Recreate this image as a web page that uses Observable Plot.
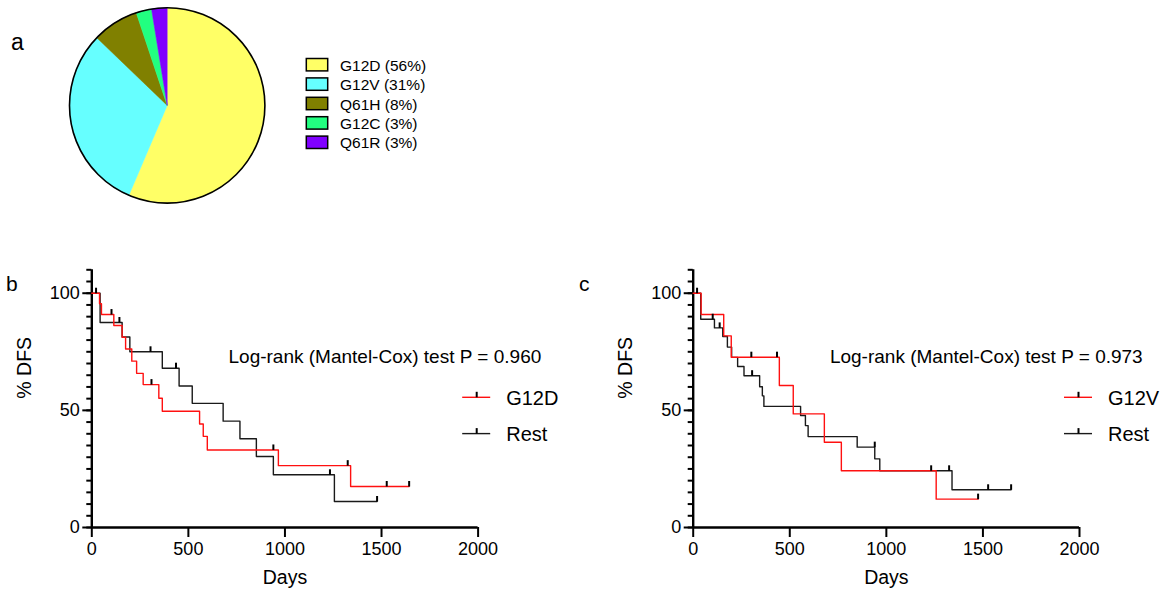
<!DOCTYPE html>
<html>
<head>
<meta charset="utf-8">
<script src="https://cdn.jsdelivr.net/npm/d3@7"></script>
<script src="https://cdn.jsdelivr.net/npm/@observablehq/plot@0.6"></script>
<style>
  body { margin: 0; background: #fff; }
  #root { position: relative; width: 1165px; height: 594px; overflow: hidden; background: #fff;
          font-family: "Liberation Sans", Arial, sans-serif; }
</style>
</head>
<body>
<div id="root"></div>
<script>
// ---------------- DATA ----------------
// Panel a: mutation distribution (patient counts)
const mutations = ["G12D", "G12V", "Q61H", "G12C", "Q61R"];
const mutationCounts = [22, 12, 3, 1, 1];
const mutationPercentLabels = ["56%", "31%", "8%", "3%", "3%"];
const mutationColors = ["#ffff66", "#66ffff", "#808000", "#22ff80", "#8000ff"];

// Axis ticks
const dayTicks = [0, 500, 1000, 1500, 2000];
const dfsMajorTicks = [0, 50, 100];
const dfsMinorTicks = [0, 5, 10, 15, 20, 25, 30, 35, 40, 45, 50, 55, 60, 65, 70, 75, 80, 85, 90, 95, 100, 105, 110];

// Panel b: G12D vs Rest (Kaplan-Meier steps)
const bG12DDays = [0, 40, 50, 114, 157, 175, 207, 232, 266, 347, 365, 558, 577, 598, 966, 1340, 1643];
const bG12DPct  = [100, 95.5, 90.9, 86.2, 81.2, 76.2, 71.0, 65.8, 61.0, 55.2, 49.6, 44.2, 38.9, 33.1, 26.4, 17.5, 17.5];
const bG12DCensorDays = [102, 309, 940, 1325, 1527, 1643];
const bG12DCensorPct  = [90.9, 61.0, 33.1, 26.4, 17.5, 17.5];
const bRestDays = [0, 43, 157, 197, 365, 452, 520, 680, 767, 852, 940, 1256, 1477];
const bRestPct  = [100, 87.5, 81.3, 75.0, 68.0, 60.4, 53.0, 45.4, 37.9, 30.3, 22.5, 11.1, 11.1];
const bRestCensorDays = [22, 143, 304, 436, 1233, 1477];
const bRestCensorPct  = [100, 87.5, 75.0, 68.0, 22.5, 11.1];

// Panel c: G12V vs Rest
const cG12VDays = [0, 41, 158, 197, 446, 518, 679, 767, 1258, 1475];
const cG12VPct  = [100, 90.9, 81.8, 72.7, 60.6, 48.5, 36.4, 24.2, 12.1, 12.1];
const cG12VCensorDays = [301, 434, 1475];
const cG12VCensorPct  = [72.7, 72.7, 12.1];
const cRestDays = [0, 39, 110, 153, 177, 199, 230, 263, 344, 358, 366, 556, 581, 595, 849, 940, 966, 1340, 1646];
const cRestPct  = [100, 88.9, 85.2, 81.5, 77.0, 72.6, 68.7, 64.8, 60.1, 56.2, 51.7, 47.8, 43.5, 38.8, 34.3, 29.3, 24.2, 16.1, 16.1];
const cRestCensorDays = [20, 101, 137, 305, 940, 1232, 1325, 1527, 1646];
const cRestCensorPct  = [100, 88.9, 85.2, 64.8, 34.3, 24.2, 24.2, 16.1, 16.1];

const bTestText = "Log-rank (Mantel-Cox) test P = 0.960";
const cTestText = "Log-rank (Mantel-Cox) test P = 0.973";

// ---------------- HELPERS ----------------
const FONT = "Liberation Sans, Arial, sans-serif";
const root = document.getElementById("root");
const zip = (days, pct) => days.map((d, i) => ({day: d, pct: pct[i]}));
const censorTick = { draw(context) { context.moveTo(0, 0); context.lineTo(0, -5.5); } };
const intFormat = d3.format("d");

function place(node, left, top) {
  node.style.position = "absolute";
  node.style.left = left + "px";
  node.style.top = top + "px";
  root.appendChild(node);
}

// ---------------- PANEL a: PIE ----------------
const pieData = mutations.map((m, i) => ({mutation: m, count: mutationCounts[i]}));
const pieArcs = d3.pie().sort(null).value(d => d.count)(pieData);

function pieMark(index, scales, values, dims) {
  const cx = scales.x ? scales.x(0) : dims.width / 2;
  const cy = scales.y ? scales.y(0) : dims.height / 2;
  const r = scales.x ? Math.abs(scales.x(1) - scales.x(0)) : Math.min(dims.width, dims.height) / 2;
  const color = scales.color || (m => mutationColors[mutations.indexOf(m)]);
  const g = d3.create("svg:g").attr("transform", `translate(${cx},${cy})`);
  const arc = d3.arc().innerRadius(0).outerRadius(r);
  g.selectAll("path.slice").data(pieArcs).join("path")
    .attr("class", "slice")
    .attr("d", arc)
    .attr("fill", d => color(d.data.mutation))
    .attr("stroke", d => color(d.data.mutation))
    .attr("stroke-width", 0.5);
  g.append("circle").attr("r", r).attr("fill", "none").attr("stroke", "#000").attr("stroke-width", 1.6);
  return g.node();
}

const pie = Plot.plot({
  width: 300, height: 211,
  margin: 0,
  x: {domain: [-1, 1], range: [69.5, 264.9], axis: null},
  y: {domain: [-1, 1], range: [203.1, 7.7], axis: null},
  color: {domain: mutations, range: mutationColors},
  style: {background: "transparent", overflow: "visible"},
  marks: [
    Plot.dot(pieData, {x: () => 0, y: () => 0, fill: "mutation", r: 0}),
    pieMark
  ]
});
place(pie, 0, 0);

// ---------------- PANELS b, c: KAPLAN-MEIER ----------------
function kmPlot({width, marginLeft, marginRight, redData, restData, censors, testText}) {
  return Plot.plot({
    width, height: 344,
    marginLeft, marginRight, marginTop: 19.3, marginBottom: 67,
    x: {domain: [0, 2000]},
    y: {domain: [0, 110]},
    style: {fontFamily: FONT, fontSize: "18px", background: "transparent", color: "#000", overflow: "visible"},
    marks: [
      Plot.axisY({ticks: dfsMinorTicks, tickSize: 5, tickFormat: () => "", strokeWidth: 2, label: null}),
      Plot.axisY({ticks: dfsMajorTicks, tickSize: 9, tickPadding: 3, tickFormat: intFormat, strokeWidth: 2, fontSize: 18, label: null}),
      Plot.axisX({ticks: dayTicks, tickSize: 10, tickPadding: 5, tickFormat: intFormat, strokeWidth: 2, fontSize: 18, label: null}),
      Plot.ruleX([0], {strokeWidth: 2.4, stroke: "#000"}),
      Plot.ruleY([0], {strokeWidth: 2.4, stroke: "#000"}),
      Plot.line(restData, {x: "day", y: "pct", curve: "step-after", stroke: "#1a1a1a", strokeWidth: 1.4}),
      Plot.line(redData, {x: "day", y: "pct", curve: "step-after", stroke: "#ff1010", strokeWidth: 1.4}),
      Plot.dot(censors, {x: "day", y: "pct", symbol: censorTick, r: 3, stroke: "#000", strokeWidth: 2, fill: "none"}),
      Plot.text(["% DFS"], {text: d => d, frameAnchor: "left", dx: -67, rotate: -90, fontSize: 19.5}),
      Plot.text(["Days"], {text: d => d, frameAnchor: "bottom", dy: 56, fontSize: 19.5}),
      Plot.text([testText], {text: d => d, frameAnchor: "top-left", dx: 136.7, dy: 79.7, textAnchor: "start", fontSize: 19})
    ]
  });
}

const plotB = kmPlot({
  width: 580, marginLeft: 91.3, marginRight: 102.4,
  redData: zip(bG12DDays, bG12DPct),
  restData: zip(bRestDays, bRestPct),
  censors: [...zip(bRestCensorDays, bRestCensorPct), ...zip(bG12DCensorDays, bG12DCensorPct)],
  testText: bTestText
});
place(plotB, 0, 250);

const plotC = kmPlot({
  width: 585, marginLeft: 112.7, marginRight: 86,
  redData: zip(cG12VDays, cG12VPct),
  restData: zip(cRestDays, cRestPct),
  censors: [...zip(cRestCensorDays, cRestCensorPct), ...zip(cG12VCensorDays, cG12VCensorPct)],
  testText: cTestText
});
place(plotC, 580, 250);

// ---------------- LEGENDS & PANEL LETTERS (overlay) ----------------
const overlay = d3.create("svg").attr("width", 1165).attr("height", 594)
  .style("pointer-events", "none").style("font-family", FONT);

// pie legend
const legendRowY = [64.7, 84.1, 103.5, 122.9, 142.3];
mutations.forEach((m, i) => {
  overlay.append("rect").attr("x", 306.3).attr("y", legendRowY[i] - 6.2).attr("width", 21.4).attr("height", 12.4)
    .attr("fill", mutationColors[i]).attr("stroke", "#000").attr("stroke-width", 1.5);
  overlay.append("text").attr("x", 340).attr("y", legendRowY[i] + 6).attr("font-size", 15.5)
    .text(`${m} (${mutationPercentLabels[i]})`);
});

// KM legends
function kmLegend(x0, label, color, lineY) {
  overlay.append("line").attr("x1", x0).attr("x2", x0 + 28).attr("y1", lineY).attr("y2", lineY)
    .attr("stroke", color).attr("stroke-width", 1.4);
  overlay.append("line").attr("x1", x0 + 14.5).attr("x2", x0 + 14.5).attr("y1", lineY).attr("y2", lineY - 5.5)
    .attr("stroke", "#000").attr("stroke-width", 2);
  overlay.append("text").attr("x", x0 + 44).attr("y", lineY + 7.8).attr("font-size", 20).text(label);
}
kmLegend(462.2, "G12D", "#ff1010", 397.3);
kmLegend(462.2, "Rest", "#1a1a1a", 433.6);
kmLegend(1064, "G12V", "#ff1010", 397.3);
kmLegend(1064, "Rest", "#1a1a1a", 433.6);

// panel letters
overlay.append("text").attr("x", 11).attr("y", 49.5).attr("font-size", 23).text("a");
overlay.append("text").attr("x", 6).attr("y", 291).attr("font-size", 21).text("b");
overlay.append("text").attr("x", 579).attr("y", 291).attr("font-size", 21).text("c");

place(overlay.node(), 0, 0);
</script>
</body>
</html>
